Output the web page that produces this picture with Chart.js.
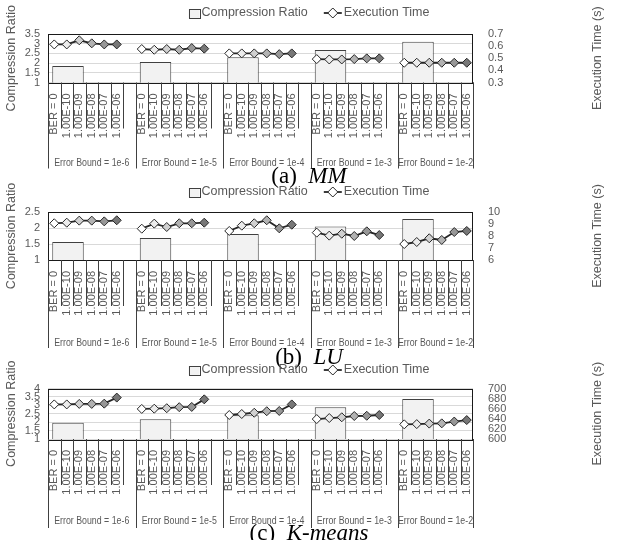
<!DOCTYPE html>
<html>
<head>
<meta charset="utf-8">
<script src="https://cdn.jsdelivr.net/npm/chart.js@4.4.0/dist/chart.umd.min.js"></script>
<style>
html, body { margin: 0; padding: 0; background: #fff; }
#wrap { width: 618px; height: 540px; position: relative; overflow: hidden; }
.panel { position: relative; width: 618px; height: 180px; }
.panel canvas { position: absolute; left: 0; top: 0; }
.cap { position: absolute; left: 0; width: 618px; text-align: center; font-family: "Liberation Serif", "Times New Roman", serif; font-size: 23px; line-height: 24px; color: #000; }
</style>
</head>
<body>
<div id="wrap">
  <div class="panel"><canvas id="cMM" width="618" height="180"></canvas><div class="cap" style="top:164px">(a)&nbsp; <i>MM</i></div></div>
  <div class="panel"><canvas id="cLU" width="618" height="180"></canvas><div class="cap" style="top:165px">(b)&nbsp; <i>LU</i></div></div>
  <div class="panel"><canvas id="cKM" width="618" height="180"></canvas><div class="cap" style="top:161px">(c)&nbsp; <i>K-means</i></div></div>
</div>
<script>
const groups = ['Error Bound = 1e-6', 'Error Bound = 1e-5', 'Error Bound = 1e-4', 'Error Bound = 1e-3', 'Error Bound = 1e-2'];
const berLabels = ['BER = 0', '1.00E-10', '1.00E-09', '1.00E-08', '1.00E-07', '1.00E-06'];

// compression ratio, one per error bound
const mmRatio = [1.85, 2.06, 2.3, 2.68, 3.1];
const luRatio = [1.56, 1.69, 1.81, 2.05, 2.28];
const kmRatio = [1.97, 2.17, 2.41, 2.88, 3.38];

// execution time (s), one row per error bound, one value per BER
const mmTime = [
    [0.614, 0.614, 0.648, 0.623, 0.614, 0.614],
    [0.576, 0.570, 0.576, 0.570, 0.584, 0.579],
    [0.540, 0.540, 0.540, 0.540, 0.534, 0.540],
    [0.493, 0.490, 0.490, 0.493, 0.499, 0.499],
    [0.463, 0.463, 0.463, 0.463, 0.463, 0.463]
];
const luTime = [
    [9.06, 9.11, 9.28, 9.28, 9.22, 9.31],
    [8.61, 9.03, 8.75, 9.06, 9.06, 9.11],
    [8.42, 8.86, 9.06, 9.31, 8.64, 8.94],
    [8.28, 8.03, 8.19, 8.00, 8.39, 8.08],
    [7.33, 7.50, 7.81, 7.67, 8.33, 8.42]
];
const kmTime = [
    [668.5, 668.5, 669.5, 669.5, 670, 682],
    [659.5, 660, 661, 663, 663.5, 678.5],
    [647.5, 649.5, 652, 655, 655.5, 668.5],
    [639.5, 641.5, 643, 645.5, 646, 647.5],
    [629, 629.5, 630.5, 631, 634.5, 637.5]
];

// axis ticks
const mmRatioTicks = [1, 1.5, 2, 2.5, 3, 3.5];
const mmTimeTicks = [0.3, 0.4, 0.5, 0.6, 0.7];
const luRatioTicks = [1, 1.5, 2, 2.5];
const luTimeTicks = [6, 7, 8, 9, 10];
const kmRatioTicks = [1, 1.5, 2, 2.5, 3, 3.5, 4];
const kmTimeTicks = [600, 620, 640, 660, 680, 700];

const pointFills = ['#ffffff', '#ececec', '#d0d0d0', '#b2b2b2', '#979797', '#777777'];
const FONT = '"Liberation Sans", Arial, sans-serif';
const GREY = '#595959';

// category labels with an empty slot between groups
const xLabels = [];
groups.forEach((g, gi) => {
    berLabels.forEach(b => xLabels.push(b));
    if (gi < groups.length - 1) xLabels.push('');
});
const step = berLabels.length + 1;

// legend, separators, group labels, right title, plot border
const decor = {
    id: 'decor',
    beforeDatasetsDraw(chart) {
        const {ctx, chartArea: a} = chart;
        ctx.save();
        ctx.strokeStyle = '#1a1a1a';
        ctx.lineWidth = 1;
        ctx.strokeRect(Math.round(a.left) + 0.5, Math.round(a.top) + 0.5, Math.round(a.right - a.left) - 1, Math.round(a.bottom - a.top));
        ctx.restore();
    },
    afterDraw(chart, args, opts) {
        const {ctx, chartArea: a} = chart;
        const x = chart.scales.x;
        const w = x.getPixelForValue(1) - x.getPixelForValue(0);
        const edge = i => Math.min(x.getPixelForValue(i) - w / 2, a.right);
        const bottom = a.bottom;
        ctx.save();
        ctx.strokeStyle = '#404040';
        ctx.lineWidth = 1;
        const vline = (px, len) => {
            const xx = Math.round(px) + 0.5;
            ctx.beginPath();
            ctx.moveTo(xx, bottom);
            ctx.lineTo(xx, bottom + len);
            ctx.stroke();
        };
        ctx.font = '11px ' + FONT;
        ctx.fillStyle = GREY;
        ctx.textAlign = 'center';
        ctx.textBaseline = 'middle';
        const n = berLabels.length;
        groups.forEach((g, gi) => {
            const s = gi * step;
            vline(edge(s), opts.tall);
            for (let j = 1; j <= n; j++) vline(edge(s + j), opts.short);
            if (gi === groups.length - 1) vline(edge(s + n), opts.tall);
            const right = gi === groups.length - 1 ? edge(s + n) : edge(s + step);
            // condensed text, like the narrow font of the original
            ctx.save();
            ctx.translate((edge(s) + right) / 2, bottom + opts.groupY);
            ctx.scale(0.8, 1);
            ctx.fillText(g, 0, 0);
            ctx.restore();
        });

        // right axis title, reading bottom to top
        ctx.save();
        ctx.font = '12.5px ' + FONT;
        ctx.translate(598, (a.top + a.bottom) / 2);
        ctx.rotate(-Math.PI / 2);
        ctx.fillText('Execution Time (s)', 0, 0);
        ctx.restore();

        // legend
        ctx.font = '12.5px ' + FONT;
        const t1 = 'Compression Ratio', t2 = 'Execution Time';
        const w1 = ctx.measureText(t1).width, w2 = ctx.measureText(t2).width;
        const total = 11 + 2 + w1 + 16 + 18 + 2 + w2;
        let lx = chart.width / 2 - total / 2;
        const ly = opts.legendY;
        ctx.fillStyle = '#f2f2f2';
        ctx.fillRect(lx, ly - 4, 11, 9);
        ctx.strokeStyle = '#404040';
        ctx.strokeRect(Math.round(lx) + 0.5, Math.round(ly - 4) + 0.5, 11, 9);
        lx += 13;
        ctx.fillStyle = GREY;
        ctx.textAlign = 'left';
        ctx.fillText(t1, lx, ly);
        lx += w1 + 16;
        ctx.strokeStyle = '#262626';
        ctx.lineWidth = 1.8;
        ctx.beginPath();
        ctx.moveTo(lx, ly);
        ctx.lineTo(lx + 18, ly);
        ctx.stroke();
        ctx.lineWidth = 1;
        ctx.fillStyle = '#fff';
        ctx.beginPath();
        ctx.moveTo(lx + 9, ly - 5);
        ctx.lineTo(lx + 14, ly);
        ctx.lineTo(lx + 9, ly + 5);
        ctx.lineTo(lx + 4, ly);
        ctx.closePath();
        ctx.fill();
        ctx.stroke();
        lx += 20;
        ctx.fillStyle = GREY;
        ctx.fillText(t2, lx, ly);
        ctx.restore();
    }
};

function makeChart(id, ratio, time, ratioTicks, timeTicks, geo) {
    const lineData = [];
    const fills = [];
    time.forEach((row, gi) => {
        row.forEach((v, j) => { lineData.push(v); fills.push(pointFills[j]); });
        if (gi < time.length - 1) { lineData.push(null); fills.push('#fff'); }
    });
    const barData = ratio.map((v, gi) => ({x: gi * step + (berLabels.length - 1) / 2, y: v}));

    return new Chart(document.getElementById(id), {
        type: 'bar',
        data: {
            labels: xLabels,
            datasets: [{
                type: 'bar',
                label: 'Compression Ratio',
                data: barData,
                xAxisID: 'xb',
                yAxisID: 'y',
                backgroundColor: '#f2f2f2',
                borderColor: '#404040',
                borderWidth: 1,
                categoryPercentage: 0.8,
                barPercentage: 0.9,
                order: 1
            }, {
                type: 'line',
                label: 'Execution Time',
                data: lineData,
                xAxisID: 'x',
                yAxisID: 'y1',
                borderColor: '#262626',
                borderWidth: 1.8,
                spanGaps: false,
                pointStyle: 'rectRot',
                pointRadius: 4.5,
                pointBackgroundColor: fills,
                pointBorderColor: '#262626',
                pointBorderWidth: 1,
                order: 0
            }]
        },
        options: {
            responsive: false,
            animation: false,
            layout: {padding: {top: geo.top, left: 0, right: 0, bottom: 0}},
            plugins: {
                legend: {display: false},
                tooltip: {enabled: false},
                decor: {legendY: geo.legendY, short: 46, tall: geo.tall, groupY: geo.groupY}
            },
            scales: {
                x: {
                    type: 'category',
                    offset: true,
                    grid: {display: false},
                    border: {display: false},
                    ticks: {
                        autoSkip: false, minRotation: 90, maxRotation: 90, padding: 3,
                        color: GREY, font: {family: FONT, size: 11}
                    },
                    afterFit: s => { s.height = 180 - geo.bottom; }
                },
                xb: {
                    type: 'linear',
                    display: false,
                    offset: false,
                    min: -0.5,
                    max: xLabels.length - 0.5,
                    afterBuildTicks: s => { s.ticks = barData.map(d => ({value: d.x})); }
                },
                y: {
                    position: 'left',
                    min: ratioTicks[0],
                    max: ratioTicks[ratioTicks.length - 1],
                    afterBuildTicks: s => { s.ticks = ratioTicks.map(v => ({value: v})); },
                    grid: {color: '#d9d9d9', drawTicks: false},
                    border: {display: false},
                    ticks: {autoSkip: false, padding: 8, color: GREY, font: {family: FONT, size: 11}, callback: v => String(v)},
                    title: {display: true, text: 'Compression Ratio', color: GREY, font: {family: FONT, size: 12.5}, padding: {top: 4, bottom: 0}},
                    afterFit: s => { s.width = 48; }
                },
                y1: {
                    position: 'right',
                    min: timeTicks[0],
                    max: timeTicks[timeTicks.length - 1],
                    afterBuildTicks: s => { s.ticks = timeTicks.map(v => ({value: v})); },
                    grid: {drawOnChartArea: false, drawTicks: false},
                    border: {display: false},
                    ticks: {autoSkip: false, padding: 15, color: GREY, font: {family: FONT, size: 11}, callback: v => String(v)},
                    afterFit: s => { s.width = 145; }
                }
            }
        },
        plugins: [decor]
    });
}

makeChart('cMM', mmRatio, mmTime, mmRatioTicks, mmTimeTicks, {top: 34, bottom: 82.5, legendY: 13, tall: 86, groupY: 80});
makeChart('cLU', luRatio, luTime, luRatioTicks, luTimeTicks, {top: 32, bottom: 80, legendY: 12, tall: 88, groupY: 83});
makeChart('cKM', kmRatio, kmTime, kmRatioTicks, kmTimeTicks, {top: 28.5, bottom: 79, legendY: 10, tall: 89, groupY: 82});
</script>
</body>
</html>
